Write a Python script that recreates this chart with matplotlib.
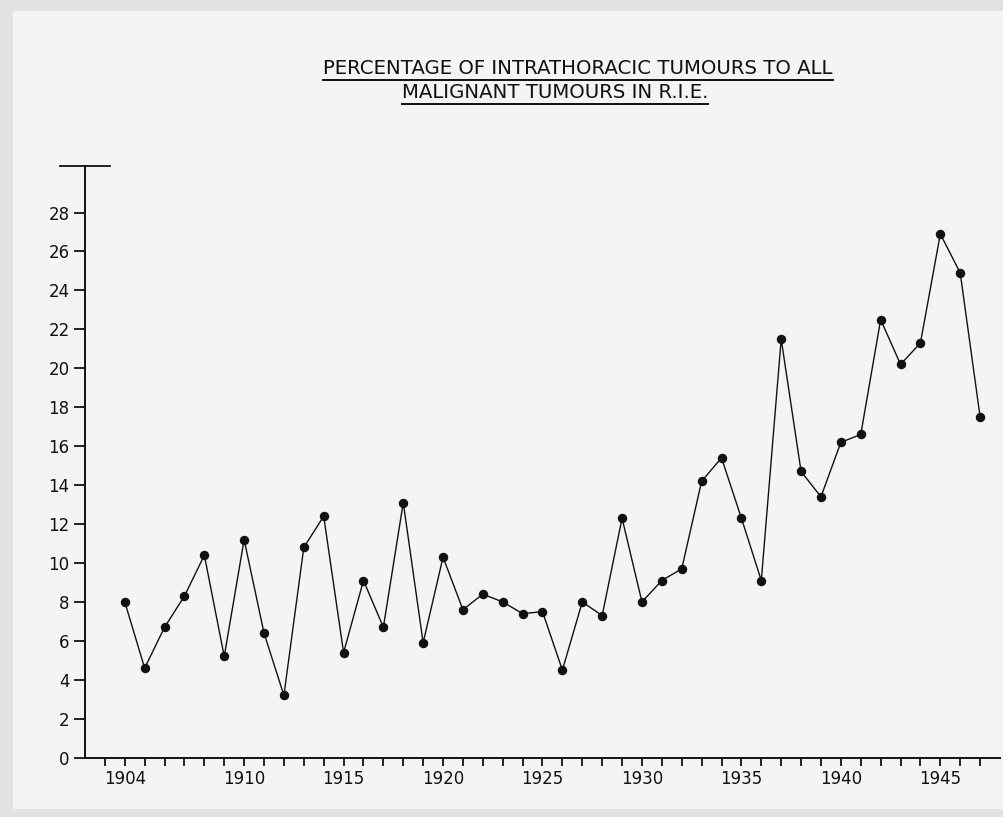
import matplotlib.pyplot as plt
from matplotlib.lines import Line2D
from matplotlib.patches import Rectangle

# Values (percentage per year)
years = list(range(1904, 1948))
percent = [8.0, 4.6, 6.7, 8.3, 10.4, 5.2, 11.2, 6.4, 3.2, 10.8,
           12.4, 5.4, 9.1, 6.7, 13.1, 5.9, 10.3, 7.6, 8.4, 8.0,
           7.4, 7.5, 4.5, 8.0, 7.3, 12.3, 8.0, 9.1, 9.7, 14.2,
           15.4, 12.3, 9.1, 21.5, 14.7, 13.4, 16.2, 16.6, 22.5, 20.2,
           21.3, 26.9, 24.9, 17.5]

x_labels = [1904, 1910, 1915, 1920, 1925, 1930, 1935, 1940, 1945]
y_ticks = list(range(0, 30, 2))
title_1 = 'PERCENTAGE OF INTRATHORACIC TUMOURS TO ALL'
title_2 = 'MALIGNANT TUMOURS IN R.I.E.'

W, H = 1004, 817
fig = plt.figure(figsize=(W / 100, H / 100), dpi=100)
fig.patch.set_facecolor('#e2e2e0')
# paper sheet
fig.patches.append(Rectangle((13 / W, 8 / H), 1, (H - 19) / H, transform=fig.transFigure,
                             facecolor='#f4f4f2', edgecolor='none', zorder=-5))

ax = fig.add_axes([85 / W, 59.3 / H, (1000 - 85) / W, (757.7 - 166) / H])
ax.set_facecolor('none')
ax.set_zorder(2)

ax.plot(years, percent, color='#111111', linewidth=1.0, marker='o',
        markersize=5.8, markerfacecolor='#111111', markeredgecolor='#111111')

ymax = (757.7 - 166) / 19.47
ax.set_ylim(0, ymax)
ax.set_xlim(1902, 1948)

for side in ['top', 'right']:
    ax.spines[side].set_visible(False)
for side in ['left', 'bottom']:
    ax.spines[side].set_linewidth(1.4)
    ax.spines[side].set_color('#111111')

ax.set_yticks(y_ticks)
ax.set_yticklabels([str(v) for v in y_ticks])
ax.set_xticks(x_labels)
ax.set_xticklabels([str(v) for v in x_labels])
ax.set_xticks(range(1903, 1948), minor=True)
ax.tick_params(axis='y', direction='out', length=8, width=1.3, color='#111111',
               labelsize=12, labelcolor='#111111', pad=3)
ax.tick_params(axis='x', which='both', direction='out', length=6, width=1.3,
               color='#111111', labelsize=12, labelcolor='#111111', pad=3)

# horizontal cap line at the top of the y axis
ax.plot([-0.027, 0.027], [ymax, ymax], color='#111111', linewidth=1.3,
        transform=ax.get_yaxis_transform(), clip_on=False)

t1 = fig.text(578 / W, 1 - 68 / H, title_1, ha='center', va='center',
              fontsize=14.2, color='#111111')
t2 = fig.text(555 / W, 1 - 93 / H, title_2, ha='center', va='center',
              fontsize=14.2, color='#111111')

# underline the title lines
fig.canvas.draw()
renderer = fig.canvas.get_renderer()
for t, uy in [(t1, 80), (t2, 104)]:
    bb = t.get_window_extent(renderer)
    fig.add_artist(Line2D([bb.x0 / W, bb.x1 / W], [1 - uy / H, 1 - uy / H],
                          transform=fig.transFigure, color='#111111', linewidth=1.4))

fig.savefig('out.png', dpi=100, facecolor=fig.get_facecolor())
